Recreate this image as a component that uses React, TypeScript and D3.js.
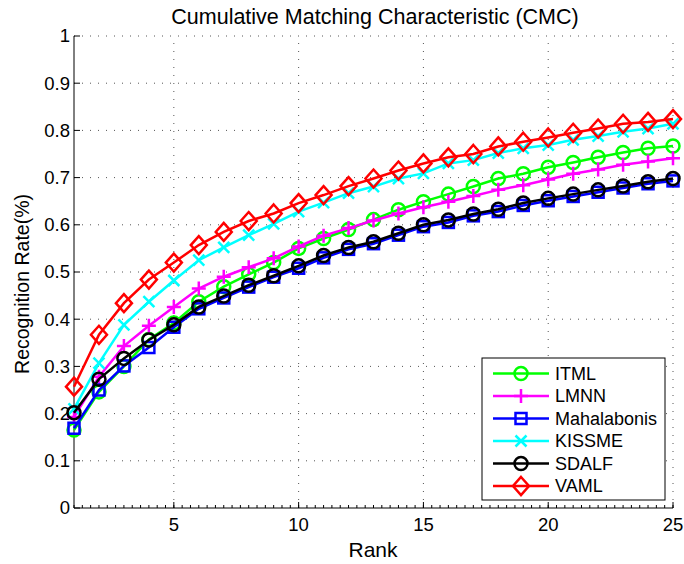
import React from "react";
import * as d3 from "d3";

// ranks 1..25
const ranks = d3.range(1, 26);

const itml = [0.165, 0.246, 0.3, 0.357, 0.392, 0.437, 0.469, 0.495, 0.52, 0.55, 0.571, 0.59, 0.611, 0.632, 0.649, 0.665, 0.681, 0.698, 0.708, 0.722, 0.732, 0.743, 0.753, 0.762, 0.767];
const lmnn = [0.193, 0.278, 0.343, 0.386, 0.426, 0.465, 0.49, 0.51, 0.529, 0.554, 0.577, 0.593, 0.609, 0.624, 0.637, 0.649, 0.661, 0.674, 0.684, 0.696, 0.708, 0.717, 0.727, 0.734, 0.741];
const mahalanobis = [0.169, 0.25, 0.301, 0.34, 0.383, 0.422, 0.445, 0.468, 0.489, 0.508, 0.53, 0.548, 0.56, 0.578, 0.596, 0.605, 0.619, 0.628, 0.641, 0.651, 0.66, 0.669, 0.678, 0.687, 0.693];
const kissme = [0.21, 0.307, 0.388, 0.437, 0.482, 0.525, 0.552, 0.578, 0.602, 0.628, 0.647, 0.667, 0.681, 0.698, 0.709, 0.73, 0.737, 0.752, 0.762, 0.769, 0.78, 0.788, 0.797, 0.804, 0.814];
const sdalf = [0.202, 0.273, 0.317, 0.356, 0.388, 0.426, 0.449, 0.472, 0.492, 0.513, 0.535, 0.552, 0.564, 0.582, 0.6, 0.61, 0.623, 0.633, 0.646, 0.656, 0.665, 0.674, 0.682, 0.691, 0.698];
const vaml = [0.257, 0.367, 0.434, 0.484, 0.52, 0.557, 0.585, 0.608, 0.624, 0.646, 0.663, 0.682, 0.698, 0.715, 0.73, 0.743, 0.75, 0.766, 0.776, 0.785, 0.795, 0.804, 0.814, 0.818, 0.824];

const seriesNames = ["ITML", "LMNN", "Mahalabonis", "KISSME", "SDALF", "VAML"];
const seriesValues = [itml, lmnn, mahalanobis, kissme, sdalf, vaml];
const seriesColors = ["#00ff00", "#ff00ff", "#0000ff", "#00ffff", "#000000", "#ff0000"];
const seriesMarkers = ["circle", "plus", "square", "x", "circle", "diamond"];

const xTicks = [5, 10, 15, 20, 25];
const yTicks = d3.range(0, 11).map((i) => i / 10);

const W = 684;
const H = 564;
const FONT = "'Liberation Sans', Arial, Helvetica, sans-serif";

function Marker({ type, x, y, color }: { type: string; x: number; y: number; color: string }) {
  const common = { fill: "none", stroke: color, strokeWidth: 2.5 };
  if (type === "circle") return <circle cx={x} cy={y} r={6.5} {...common} />;
  if (type === "square") return <rect x={x - 5.5} y={y - 5.5} width={11} height={11} {...common} />;
  if (type === "diamond")
    return <path d={`M${x},${y - 9}L${x + 8},${y}L${x},${y + 9}L${x - 8},${y}Z`} {...common} />;
  if (type === "plus") return <path d={`M${x - 7},${y}H${x + 7}M${x},${y - 7}V${y + 7}`} {...common} />;
  // x
  return <path d={`M${x - 5.5},${y - 5.5}L${x + 5.5},${y + 5.5}M${x - 5.5},${y + 5.5}L${x + 5.5},${y - 5.5}`} {...common} />;
}

export default function App() {
  const x = d3.scaleLinear().domain([1, 25]).range([74, 673]);
  const y = d3.scaleLinear().domain([0, 1]).range([508, 36]);
  const line = d3
    .line<number>()
    .x((_, i) => x(ranks[i]))
    .y((d) => y(d));

  const minorX = d3.range(1, 25.01, 1 / 3);

  // legend placement
  const lgX = 482;
  const lgY = 358;
  const lgW = 183;
  const lgH = 142;

  return (
    <svg width={W} height={H} style={{ position: "absolute", left: 0, top: 0, background: "#fff" }} fontFamily={FONT}>
      <rect width={W} height={H} fill="#fff" />

      {/* grid */}
      <g stroke="#555" strokeWidth={1} strokeDasharray="1 7">
        {yTicks.slice(1).map((t) => (
          <line key={"gy" + t} x1={x(1)} x2={x(25)} y1={y(t)} y2={y(t)} />
        ))}
        {xTicks.map((t) => (
          <line key={"gx" + t} x1={x(t)} x2={x(t)} y1={y(0)} y2={y(1)} />
        ))}
      </g>

      {/* axes */}
      <g stroke="#000" strokeWidth={1}>
        <line x1={x(1)} x2={x(1)} y1={y(0)} y2={y(1)} />
        <line x1={x(1)} x2={x(25)} y1={y(0)} y2={y(0)} />
        {minorX.map((t, i) => (
          <line key={"mx" + i} x1={x(t)} x2={x(t)} y1={y(0)} y2={y(0) - 3} />
        ))}
        {xTicks.map((t) => (
          <line key={"tx" + t} x1={x(t)} x2={x(t)} y1={y(0)} y2={y(0) - 6} />
        ))}
        {yTicks.map((t) => (
          <line key={"ty" + t} x1={x(1)} x2={x(1) + 6} y1={y(t)} y2={y(t)} />
        ))}
      </g>

      {/* tick labels */}
      <g fontSize={18.5} fill="#000">
        {yTicks.map((t) => (
          <text key={"ly" + t} x={x(1) - 4} y={y(t)} dy="0.35em" textAnchor="end">
            {d3.format("")(Math.round(t * 10) / 10)}
          </text>
        ))}
        {xTicks.map((t) => (
          <text key={"lx" + t} x={x(t)} y={y(0) + 23} textAnchor="middle">
            {t}
          </text>
        ))}
      </g>

      {/* series */}
      {seriesValues.map((vals, si) => (
        <g key={seriesNames[si]}>
          <path d={line(vals) || ""} fill="none" stroke={seriesColors[si]} strokeWidth={2.5} />
          {vals.map((v, i) => (
            <Marker key={i} type={seriesMarkers[si]} x={x(ranks[i])} y={y(v)} color={seriesColors[si]} />
          ))}
        </g>
      ))}

      {/* titles */}
      <text x={375} y={24} textAnchor="middle" fontSize={21.5}>
        Cumulative Matching Characteristic (CMC)
      </text>
      <text x={373} y={557} textAnchor="middle" fontSize={21}>
        Rank
      </text>
      <text transform={`translate(29, 284) rotate(-90)`} textAnchor="middle" fontSize={19.5}>
        Recognition Rate(%)
      </text>

      {/* legend */}
      <g>
        <rect x={lgX} y={lgY} width={lgW} height={lgH} fill="#fff" stroke="#000" strokeWidth={1} />
        {seriesNames.map((name, i) => {
          const cy = lgY + 15.5 + i * 22.5;
          return (
            <g key={"lg" + name}>
              <line x1={lgX + 11} x2={lgX + 67} y1={cy} y2={cy} stroke={seriesColors[i]} strokeWidth={2.5} />
              <Marker type={seriesMarkers[i]} x={lgX + 39} y={cy} color={seriesColors[i]} />
              <text x={lgX + 73} y={cy} dy="0.36em" fontSize={18}>
                {name}
              </text>
            </g>
          );
        })}
      </g>
    </svg>
  );
}
